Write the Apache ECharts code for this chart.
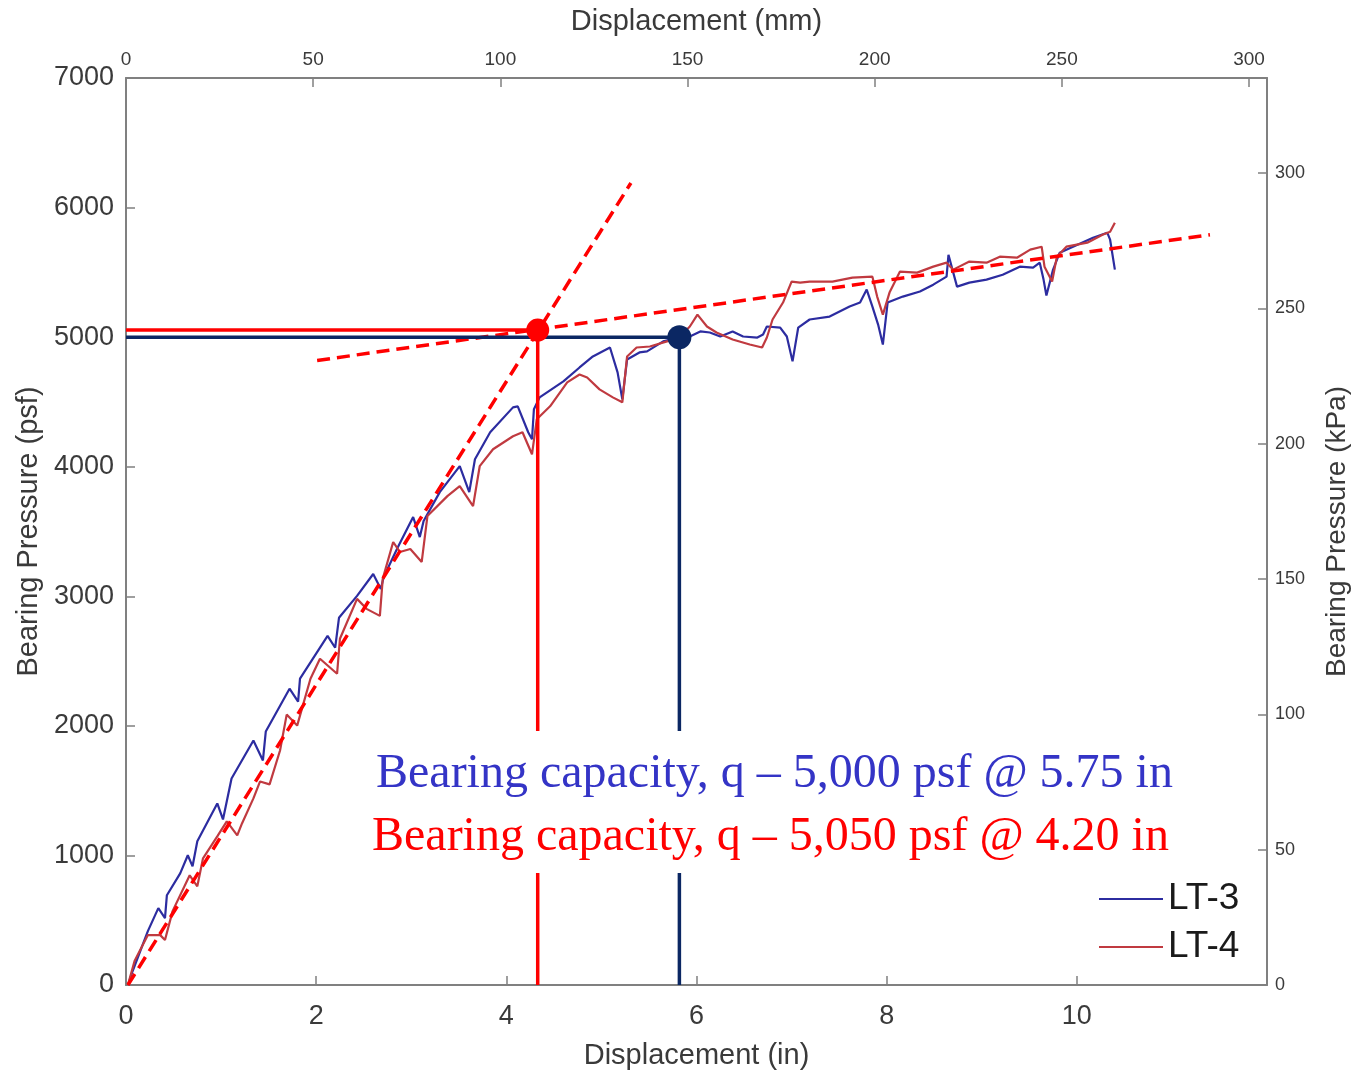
<!DOCTYPE html>
<html>
<head>
<meta charset="utf-8">
<script src="https://cdn.jsdelivr.net/npm/echarts@6/dist/echarts.min.js"></script>
<style>
html,body{margin:0;padding:0;background:#fff;}
#chart{width:1361px;height:1075px;}
</style>
</head>
<body>
<div id="chart"></div>
<script>
// ---- Data (displacement in inches, bearing pressure in psf) ----
const lt3X = [0.02,0.07,0.23,0.34,0.41,0.43,0.57,0.65,0.70,0.75,0.96,1.02,1.11,1.34,1.44,1.47,1.72,1.81,1.83,2.12,2.20,2.24,2.43,2.60,2.68,2.71,2.86,3.02,3.09,3.13,3.30,3.51,3.61,3.67,3.83,4.07,4.12,4.23,4.27,4.29,4.35,4.60,4.77,4.91,5.09,5.17,5.22,5.27,5.40,5.48,5.65,5.81,5.93,6.04,6.14,6.25,6.38,6.49,6.64,6.70,6.74,6.88,6.95,7.01,7.07,7.19,7.40,7.61,7.72,7.79,7.85,7.91,7.96,8.01,8.17,8.35,8.49,8.63,8.65,8.74,8.87,9.05,9.22,9.40,9.54,9.61,9.65,9.68,9.75,9.82,9.96,10.17,10.32,10.35,10.40];
const lt3Y = [0,108,416,593,516,693,862,1001,916,1109,1401,1278,1594,1887,1733,1956,2287,2187,2364,2695,2603,2834,3003,3172,3057,3149,3380,3611,3457,3581,3804,4004,3804,4058,4266,4458,4466,4266,4212,4443,4535,4659,4766,4851,4920,4728,4520,4828,4882,4890,4967,4997,5005,5044,5036,5005,5044,5005,4997,5020,5082,5074,5005,4813,5074,5136,5159,5236,5267,5367,5236,5097,4943,5267,5313,5352,5405,5467,5636,5390,5421,5444,5482,5544,5536,5575,5444,5321,5521,5652,5698,5767,5806,5752,5521];
const lt4X = [0.02,0.09,0.23,0.36,0.41,0.49,0.67,0.75,0.81,0.96,1.06,1.17,1.22,1.34,1.41,1.51,1.62,1.69,1.80,1.94,2.04,2.22,2.25,2.43,2.53,2.67,2.70,2.81,2.88,2.99,3.11,3.17,3.38,3.51,3.65,3.72,3.86,4.07,4.17,4.27,4.32,4.46,4.64,4.77,4.85,4.98,5.12,5.22,5.27,5.37,5.51,5.69,5.83,5.93,6.01,6.11,6.21,6.38,6.56,6.69,6.74,6.80,6.91,7.00,7.09,7.19,7.43,7.64,7.85,7.90,7.96,8.03,8.14,8.32,8.49,8.63,8.70,8.87,9.05,9.19,9.37,9.51,9.63,9.66,9.74,9.79,9.89,10.11,10.27,10.35,10.40];
const lt4Y = [0,185,385,385,347,570,847,762,978,1147,1263,1155,1247,1440,1571,1548,1810,2087,2002,2364,2518,2402,2672,2980,2903,2849,3134,3419,3342,3365,3265,3619,3773,3850,3696,4004,4135,4235,4266,4096,4366,4466,4651,4712,4689,4597,4535,4497,4851,4920,4928,4967,5005,5082,5174,5082,5036,4982,4943,4920,4997,5136,5267,5429,5421,5429,5429,5459,5467,5313,5174,5344,5506,5498,5544,5575,5521,5583,5575,5621,5613,5675,5698,5544,5429,5621,5698,5729,5790,5814,5883];

// construction lines
const initialTangentX = [0.02, 5.31];
const initialTangentY = [0, 6190];
const finalTangentX = [2.01, 11.40];
const finalTangentY = [4820, 5790];
const lt4CapX = 4.33, lt4CapY = 5055;   // red intersection point
const lt3CapX = 5.82, lt3CapY = 5000;   // navy point

// axis ticks
const inTicks = {min: 0, max: 12, interval: 2};
const mmTicks = {min: 0, max: 12 * 25.4, interval: 50};
const psfTicks = {min: 0, max: 7000, interval: 1000};
const kpaTicks = {min: 0, max: 7000 / 20.885, interval: 50};

const seriesNames = ['LT-3', 'LT-4'];
const noteLines = [
  'Bearing capacity, q \u2013 5,000 psf @ 5.75 in',
  'Bearing capacity, q \u2013 5,050 psf @ 4.20 in'
];

const zip = (xs, ys) => xs.map((x, i) => [x, ys[i]]);

const chart = echarts.init(document.getElementById('chart'), null, {renderer: 'canvas'});
const axisColor = '#808080';
const labelColor = '#3a3a3a';
const font = 'Liberation Sans, Arial, sans-serif';
const hideOdd = step => v => (Math.abs(v / step - Math.round(v / step)) < 1e-6 ? String(Math.round(v)) : '');

const option = {
  animation: false,
  backgroundColor: '#fff',
  grid: {left: 126, right: 94, top: 78, bottom: 88, containLabel: false},
  textStyle: {fontFamily: font},
  legend: {
    data: seriesNames,
    orient: 'vertical',
    left: 1098,
    top: 880,
    padding: 0,
    itemGap: 10,
    itemWidth: 64,
    itemHeight: 14,
    itemStyle: {opacity: 0},
    itemTextGap: 4,
    textStyle: {fontSize: 37, color: '#1a1a1a', fontFamily: font, lineHeight: 38}
  },
  xAxis: [
    {
      type: 'value', position: 'bottom',
      min: inTicks.min, max: inTicks.max, interval: inTicks.interval,
      name: 'Displacement (in)', nameLocation: 'middle', nameGap: 56,
      nameTextStyle: {fontSize: 29, color: labelColor, fontFamily: font},
      axisLine: {show: true, onZero: false, lineStyle: {color: axisColor, width: 2}},
      axisTick: {show: true, inside: true, length: 9, lineStyle: {color: axisColor, width: 1.5}},
      axisLabel: {fontSize: 27, color: labelColor, margin: 18, formatter: hideOdd(2), showMaxLabel: false},
      splitLine: {show: false}
    },
    {
      type: 'value', position: 'top',
      min: mmTicks.min, max: mmTicks.max, interval: mmTicks.interval,
      name: 'Displacement (mm)', nameLocation: 'middle', nameGap: 42,
      nameTextStyle: {fontSize: 29, color: labelColor, fontFamily: font},
      axisLine: {show: true, onZero: false, lineStyle: {color: axisColor, width: 2}},
      axisTick: {show: true, inside: true, length: 9, lineStyle: {color: axisColor, width: 1.5}},
      axisLabel: {fontSize: 19, color: labelColor, margin: 9, formatter: hideOdd(50), showMaxLabel: false},
      splitLine: {show: false}
    }
  ],
  yAxis: [
    {
      type: 'value', position: 'left',
      min: psfTicks.min, max: psfTicks.max, interval: psfTicks.interval,
      name: 'Bearing Pressure (psf)', nameLocation: 'middle', nameGap: 82,
      nameTextStyle: {fontSize: 29, color: labelColor, fontFamily: font},
      axisLine: {show: true, onZero: false, lineStyle: {color: axisColor, width: 2}},
      axisTick: {show: true, inside: true, length: 9, lineStyle: {color: axisColor, width: 1.5}},
      axisLabel: {fontSize: 27, color: labelColor, margin: 12, formatter: v => String(v)},
      splitLine: {show: false}
    },
    {
      type: 'value', position: 'right',
      min: kpaTicks.min, max: kpaTicks.max, interval: kpaTicks.interval,
      name: 'Bearing Pressure (kPa)', nameLocation: 'middle', nameGap: 56, nameRotate: 90,
      nameTextStyle: {fontSize: 28, color: labelColor, fontFamily: font},
      axisLine: {show: true, onZero: false, lineStyle: {color: axisColor, width: 2}},
      axisTick: {show: true, inside: true, length: 9, lineStyle: {color: axisColor, width: 1.5}},
      axisLabel: {fontSize: 18, color: labelColor, margin: 8, formatter: hideOdd(50), showMaxLabel: false},
      splitLine: {show: false}
    }
  ],
  series: [
    {
      name: seriesNames[0], type: 'line', data: zip(lt3X, lt3Y),
      showSymbol: false, symbol: 'none', z: 2,
      lineStyle: {color: '#2c2ca0', width: 2.2}, itemStyle: {color: '#2c2ca0'}
    },
    {
      name: seriesNames[1], type: 'line', data: zip(lt4X, lt4Y),
      showSymbol: false, symbol: 'none', z: 2,
      lineStyle: {color: '#c03a40', width: 2.2}, itemStyle: {color: '#c03a40'}
    },
    {
      type: 'line', data: zip(initialTangentX, initialTangentY), symbol: 'none', z: 3,
      lineStyle: {color: '#ff0000', width: 3.5, type: [13, 7]}
    },
    {
      type: 'line', data: zip(finalTangentX, finalTangentY), symbol: 'none', z: 3,
      lineStyle: {color: '#ff0000', width: 3.5, type: [13, 7]}
    },
    {
      type: 'line', data: [[0, lt4CapY], [lt4CapX, lt4CapY], [lt4CapX, 0]], symbol: 'none', z: 4,
      lineStyle: {color: '#ff0000', width: 3.5}
    },
    {
      type: 'line', data: [[0, lt3CapY], [lt3CapX, lt3CapY], [lt3CapX, 0]], symbol: 'none', z: 4,
      lineStyle: {color: '#0b2763', width: 3.5}
    },
    {
      type: 'scatter', data: [[lt4CapX, lt4CapY]], symbolSize: 23, z: 5,
      itemStyle: {color: '#ff0000', opacity: 1}
    },
    {
      type: 'scatter', data: [[lt3CapX, lt3CapY]], symbolSize: 24, z: 5,
      itemStyle: {color: '#0b2763', opacity: 1}
    }
  ],
  graphic: [
    {
      type: 'rect', z: 50, silent: true,
      shape: {x: 362, y: 731, width: 826, height: 142},
      style: {fill: '#ffffff'}
    },
    {
      type: 'text', z: 51, silent: true, left: 376, top: 750,
      style: {text: noteLines[0], fill: '#3434c6', font: '48px "Liberation Serif", "Times New Roman", serif'}
    },
    {
      type: 'text', z: 51, silent: true, left: 372, top: 813,
      style: {text: noteLines[1], fill: '#ff0000', font: '48px "Liberation Serif", "Times New Roman", serif'}
    }
  ]
};
chart.setOption(option);
</script>
</body>
</html>
